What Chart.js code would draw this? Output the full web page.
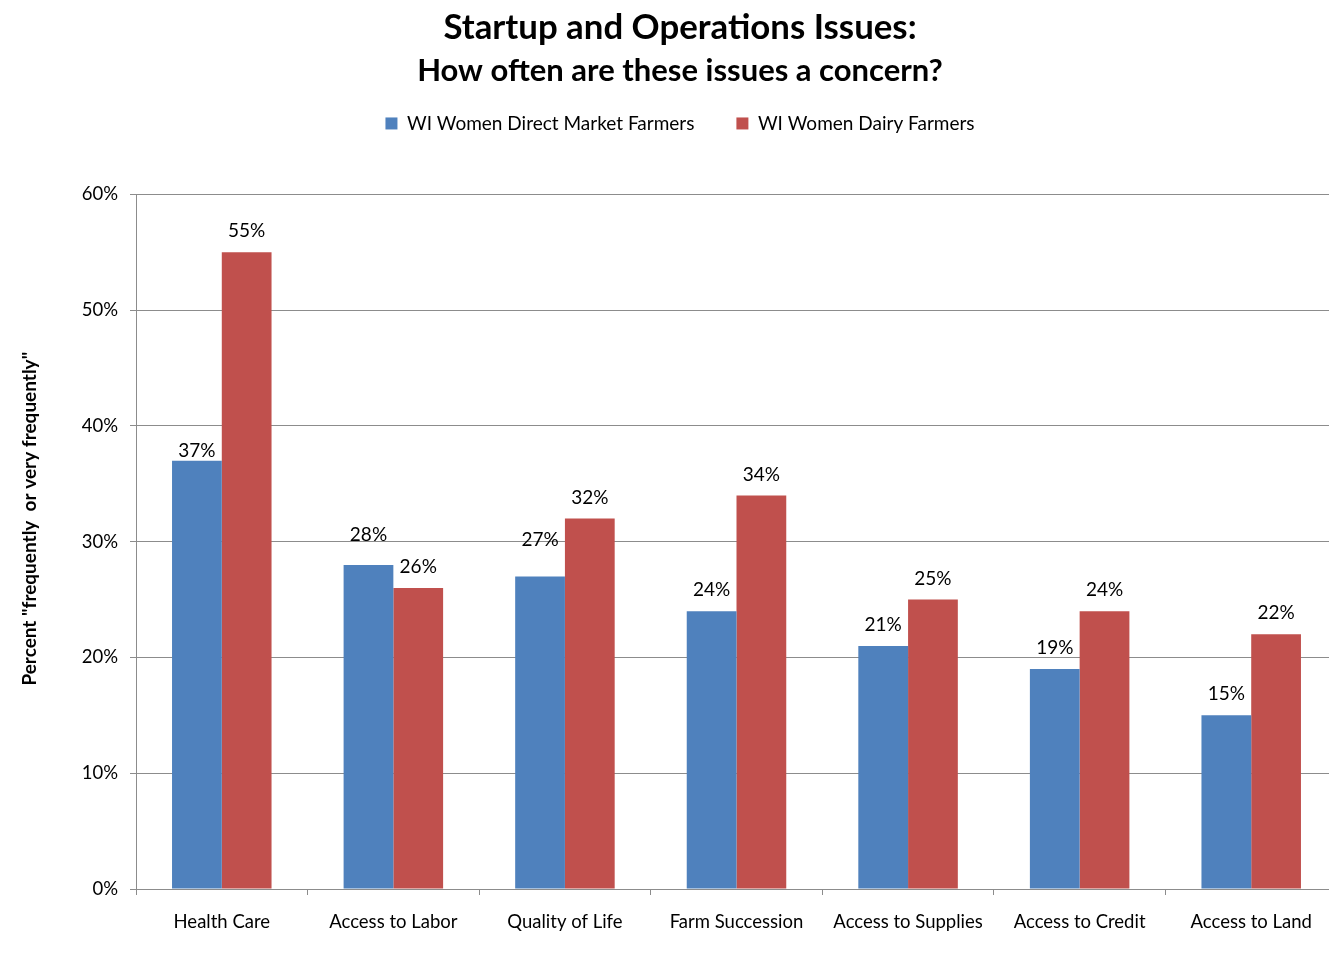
<!DOCTYPE html>
<html>
<head>
<meta charset="utf-8">
<script src="https://cdn.jsdelivr.net/npm/chart.js@4/dist/chart.umd.min.js"></script>
<style>
  html, body { margin: 0; padding: 0; background: #fff; overflow: hidden; }
  #wrap { width: 1329px; height: 953px; overflow: hidden; }
  canvas { display: block; }
</style>
</head>
<body>
<div id="wrap"><canvas id="c" width="1360" height="953"></canvas></div>
<script>
// Survey results: share answering "frequently" or "very frequently"
const categories = ["Health Care", "Access to Labor", "Quality of Life", "Farm Succession",
                    "Access to Supplies", "Access to Credit", "Access to Land"];
const directMarket = [37, 28, 27, 24, 21, 19, 15];
const dairy = [55, 26, 32, 34, 25, 24, 22];
const yTicks = [0, 10, 20, 30, 40, 50, 60];
const yAxisTitle = 'Percent "frequently  or very frequently"';

const FONT = "Lato, 'Open Sans', sans-serif";

// Writes each bar's value above it; some labels are nudged to stay clear of neighbours
const valueLabels = {
  id: 'valueLabels',
  afterDatasetsDraw(chart, args, opts) {
    const ctx = chart.ctx;
    ctx.save();
    ctx.font = `19px ${FONT}`;
    ctx.fillStyle = '#000';
    ctx.textAlign = 'center';
    ctx.textBaseline = 'middle';
    chart.data.datasets.forEach((ds, di) => {
      const meta = chart.getDatasetMeta(di);
      const lifts = (opts.lift && opts.lift[di]) || [];
      meta.data.forEach((bar, i) => {
        const lift = lifts[i] != null ? lifts[i] : opts.defaultLift;
        ctx.fillText(ds.data[i] + '%', bar.x, bar.y - lift);
      });
    });
    ctx.restore();
  }
};

// Rotated value-axis caption, placed in the left margin
const sideTitle = {
  id: 'sideTitle',
  afterDraw(chart, args, opts) {
    const ctx = chart.ctx;
    const area = chart.chartArea;
    ctx.save();
    ctx.translate(opts.x, (area.top + area.bottom) / 2 + opts.shift);
    ctx.rotate(-Math.PI / 2);
    ctx.font = `bold 19px ${FONT}`;
    ctx.fillStyle = '#000';
    ctx.textAlign = 'center';
    ctx.textBaseline = 'middle';
    ctx.fillText(opts.text, 0, 0);
    ctx.restore();
  }
};

// Empty layout box that keeps a gap between the legend and the plot
const legendGap = {
  id: 'legendGap',
  beforeInit(chart, args, opts) {
    Chart.layouts.addBox(chart, {
      position: 'top',
      weight: 500,
      fullSize: true,
      options: {},
      top: 0, left: 0, right: 0, bottom: 0, width: 0, height: 0,
      isHorizontal() { return true; },
      update(maxWidth) { this.width = maxWidth; this.height = opts.height; },
      draw() {}
    });
  }
};

new Chart(document.getElementById('c'), {
  type: 'bar',
  data: {
    labels: categories,
    datasets: [
      { label: 'WI Women Direct Market Farmers', data: directMarket, backgroundColor: '#4F81BD' },
      { label: 'WI Women Dairy Farmers', data: dairy, backgroundColor: '#C0504D' }
    ]
  },
  plugins: [valueLabels, sideTitle, legendGap],
  options: {
    responsive: false,
    animation: false,
    devicePixelRatio: 1,
    categoryPercentage: 0.58,
    barPercentage: 1.0,
    layout: { padding: { left: 23, right: 23, top: 0, bottom: 0 } },
    plugins: {
      title: {
        display: true,
        text: 'Startup and Operations Issues:',
        color: '#000',
        font: { family: FONT, size: 34.8, weight: 'bold' },
        padding: { top: 7, bottom: 2 }
      },
      subtitle: {
        display: true,
        text: 'How often are these issues a concern?',
        color: '#000',
        font: { family: FONT, size: 31, weight: 'bold' },
        padding: { top: 2, bottom: -18 }
      },
      legend: {
        display: true,
        position: 'top',
        labels: {
          color: '#000',
          font: { family: FONT, size: 19 },
          boxWidth: 12,
          boxHeight: 12,
          padding: 42
        }
      },
      tooltip: { enabled: false },
      valueLabels: {
        defaultLift: 21,
        lift: [[10, 30, 37], []]
      },
      sideTitle: { text: yAxisTitle, x: 30, shift: -23 },
      legendGap: { height: 51.5 }
    },
    scales: {
      x: {
        grid: {
          display: true,
          drawOnChartArea: false,
          drawTicks: true,
          tickLength: 6,
          color: '#8c8c8c',
          offset: true
        },
        border: { color: '#8c8c8c' },
        ticks: {
          color: '#000',
          font: { family: FONT, size: 18.5 },
          padding: 16,
          maxRotation: 0,
          autoSkip: false
        },
        afterFit(scale) { scale.height = 64; }
      },
      y: {
        min: 0,
        max: 60,
        afterBuildTicks(scale) { scale.ticks = yTicks.map(v => ({ value: v })); },
        grid: {
          color: '#8c8c8c',
          tickLength: 6,
          drawTicks: true
        },
        border: { color: '#8c8c8c' },
        ticks: {
          color: '#000',
          font: { family: FONT, size: 18.5 },
          padding: 12,
          callback: v => v + '%'
        },
        afterFit(scale) { scale.width = 113; }
      }
    }
  }
});
</script>
</body>
</html>
